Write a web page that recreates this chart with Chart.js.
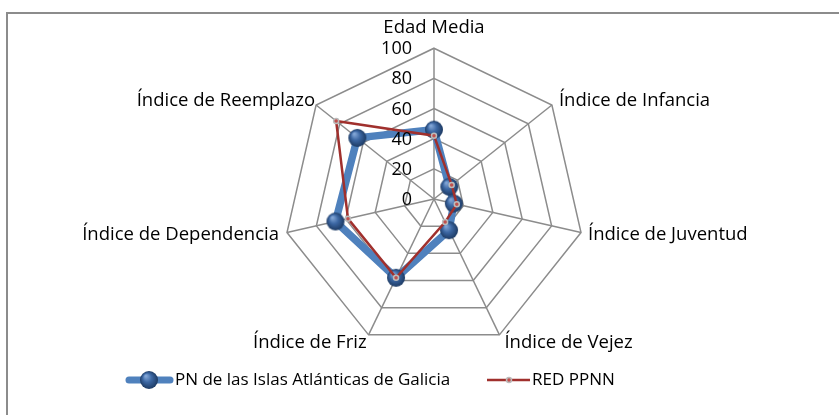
<!DOCTYPE html>
<html>
<head>
<meta charset="utf-8">
<script src="https://cdn.jsdelivr.net/npm/chart.js@4"></script>
<style>
	html, body { margin: 0; padding: 0; background: #fff; overflow: hidden; }
	canvas { display: block; }
</style>
</head>
<body>
<canvas id="chart-radar" width="839" height="415"></canvas>
<script>
const categorias = ['Edad Media', 'Índice de Infancia', 'Índice de Juventud', 'Índice de Vejez', 'Índice de Friz', 'Índice de Dependencia', 'Índice de Reemplazo'];
const islasAtlanticas = [46, 13, 13.5, 23, 58, 67, 65];
const redPPNN = [42, 15, 15.5, 17, 58, 58.5, 83];
const ticksEje = [0, 20, 40, 60, 80, 100];

const nombreIslas = 'PN de las Islas Atlánticas de Galicia';
const nombreRed = 'RED PPNN';
const fuente = "'Open Sans', sans-serif";

// esfera azul para los marcadores
function esfera(r) {
	const c = document.createElement('canvas');
	c.width = c.height = r * 2 + 2;
	const g = c.getContext('2d');
	const cx = r + 1, cy = r + 1;
	const grad = g.createRadialGradient(cx - r * 0.35, cy - r * 0.45, r * 0.1, cx, cy, r);
	grad.addColorStop(0, '#7fa3d4');
	grad.addColorStop(0.45, '#3c67a3');
	grad.addColorStop(1, '#1d3a63');
	g.fillStyle = grad;
	g.beginPath();
	g.arc(cx, cy, r, 0, Math.PI * 2);
	g.fill();
	return c;
}
const bola = esfera(9);

// desplazamiento de cada etiqueta respecto al vértice exterior (estilo Excel)
const ajusteEtiqueta = [
	{ dx: 0, dy: -20, align: 'center' },
	{ dx: 7, dy: -4, align: 'left' },
	{ dx: 7, dy: 2, align: 'left' },
	{ dx: 5, dy: 8, align: 'left' },
	{ dx: -2, dy: 8, align: 'right' },
	{ dx: -8, dy: 2, align: 'right' },
	{ dx: -1, dy: -4, align: 'right' },
];

// marco del gráfico (solo se ven los bordes superior e izquierdo)
const marco = {
	id: 'marco',
	beforeDraw(chart) {
		const ctx = chart.ctx;
		ctx.save();
		ctx.strokeStyle = '#8c8c8c';
		ctx.lineWidth = 2;
		ctx.beginPath();
		ctx.moveTo(7, chart.height + 5);
		ctx.lineTo(7, 13);
		ctx.lineTo(chart.width + 5, 13);
		ctx.stroke();
		ctx.restore();
	}
};

const etiquetasEje = {
	id: 'etiquetasEje',
	afterDraw(chart) {
		const s = chart.scales.r;
		const ctx = chart.ctx;
		ctx.save();
		ctx.fillStyle = '#000';
		ctx.textBaseline = 'middle';

		ctx.font = '18px ' + fuente;
		ctx.textAlign = 'right';
		for (const v of ticksEje) {
			const d = s.getDistanceFromCenterForValue(v);
			ctx.fillText(String(v), s.xCenter - 22, s.yCenter - d + 1);
		}

		ctx.font = '18.5px ' + fuente;
		categorias.forEach((txt, i) => {
			const p = s.getPointPosition(i, s.drawingArea);
			const a = ajusteEtiqueta[i];
			ctx.textAlign = a.align;
			ctx.fillText(txt, p.x + a.dx, p.y + a.dy);
		});
		ctx.restore();
	}
};

const leyenda = {
	id: 'leyenda',
	afterDraw(chart) {
		const ctx = chart.ctx;
		const y = 380;
		ctx.save();
		ctx.lineCap = 'round';
		// serie azul
		ctx.strokeStyle = '#4f81bd';
		ctx.lineWidth = 7;
		ctx.beginPath();
		ctx.moveTo(129, y);
		ctx.lineTo(170, y);
		ctx.stroke();
		ctx.drawImage(bola, 149 - bola.width / 2, y - bola.height / 2);
		// serie roja
		ctx.lineCap = 'butt';
		ctx.strokeStyle = '#a0302d';
		ctx.lineWidth = 2.5;
		ctx.beginPath();
		ctx.moveTo(487, y);
		ctx.lineTo(530, y);
		ctx.stroke();
		ctx.fillStyle = '#c0504d';
		ctx.strokeStyle = '#bbbbbb';
		ctx.lineWidth = 1.5;
		ctx.beginPath();
		ctx.arc(509, y, 2.5, 0, Math.PI * 2);
		ctx.fill();
		ctx.stroke();

		ctx.font = '17px ' + fuente;
		ctx.fillStyle = '#000';
		ctx.textBaseline = 'middle';
		ctx.textAlign = 'left';
		ctx.fillText(nombreIslas, 175, y);
		ctx.fillText(nombreRed, 532, y);
		ctx.restore();
	}
};

const ctx = document.getElementById('chart-radar').getContext('2d');
new Chart(ctx, {
	type: 'radar',
	data: {
		labels: categorias,
		datasets: [
			{
				label: nombreIslas,
				data: islasAtlanticas,
				order: 2,
				borderColor: '#4f81bd',
				borderWidth: 7.5,
				fill: false,
				pointStyle: bola,
				pointRadius: 9,
				pointHoverRadius: 9,
			},
			{
				label: nombreRed,
				data: redPPNN,
				order: 1,
				borderColor: '#a0302d',
				borderWidth: 2.5,
				fill: false,
				pointStyle: 'circle',
				pointRadius: 2.5,
				pointBackgroundColor: '#c0504d',
				pointBorderColor: '#bbbbbb',
				pointBorderWidth: 1.5,
			},
		],
	},
	options: {
		responsive: false,
		animation: false,
		layout: {
			padding: { top: 11, bottom: 45, left: 30, right: 0 },
		},
		plugins: {
			legend: { display: false },
			tooltip: { enabled: false },
		},
		elements: {
			line: { tension: 0 },
		},
		scales: {
			r: {
				min: 0,
				max: 100,
				ticks: { stepSize: 20, display: false },
				grid: { color: '#8c8c8c', lineWidth: 1.5 },
				angleLines: { color: '#8c8c8c', lineWidth: 1.5 },
				pointLabels: {
					// solo para reservar espacio; se dibujan en el plugin
					font: { size: 18.5, family: fuente },
					color: 'rgba(0,0,0,0)',
					padding: 6,
				},
			}
		},
	},
	plugins: [marco, etiquetasEje, leyenda],
});
</script>
</body>
</html>
